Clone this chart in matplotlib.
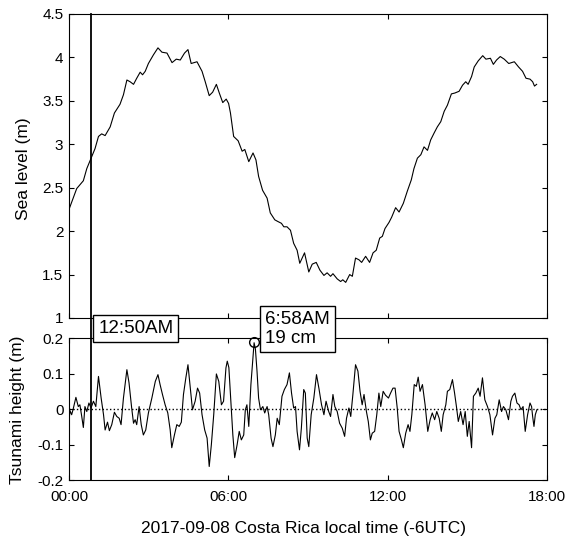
import matplotlib
matplotlib.use('Agg')
import matplotlib.pyplot as plt
import matplotlib.lines as mlines
import matplotlib.transforms as mtrans
from matplotlib.ticker import FormatStrFormatter

plt.rcParams['font.family'] = ['Liberation Sans', 'DejaVu Sans']
plt.rcParams['axes.unicode_minus'] = False

# ---- data (hours after 00:00 local time) ----
sea_time_h = [0.0, 0.29, 0.54, 0.67, 0.82, 0.98, 1.11, 1.23, 1.36, 1.55, 1.71, 1.92, 2.05, 2.18, 2.30,
              2.43, 2.55, 2.68, 2.77, 2.87, 2.99, 3.18, 3.35, 3.50, 3.69, 3.88, 4.04, 4.19, 4.35, 4.48,
              4.60, 4.82, 5.01, 5.13, 5.28, 5.41, 5.55, 5.66, 5.79, 5.92, 6.01, 6.08, 6.20, 6.37, 6.52,
              6.62, 6.77, 6.93, 7.04, 7.14, 7.29, 7.46, 7.58, 7.75, 7.87, 8.00, 8.09, 8.21, 8.34, 8.46,
              8.59, 8.69, 8.87, 9.03, 9.16, 9.31, 9.45, 9.60, 9.72, 9.85, 9.94, 10.10, 10.23, 10.31,
              10.42, 10.57, 10.67, 10.79, 10.92, 11.02, 11.17, 11.32, 11.45, 11.57, 11.70, 11.80, 11.90,
              12.05, 12.15, 12.30, 12.43, 12.59, 12.74, 12.89, 12.99, 13.12, 13.25, 13.37, 13.50, 13.62,
              13.75, 13.87, 14.00, 14.13, 14.25, 14.40, 14.53, 14.69, 14.82, 14.94, 15.03, 15.16, 15.26,
              15.41, 15.58, 15.70, 15.87, 15.98, 16.10, 16.24, 16.39, 16.56, 16.77, 16.93, 17.08, 17.21,
              17.36, 17.46, 17.53, 17.61]
sea_level_m = [2.25, 2.49, 2.58, 2.72, 2.83, 2.95, 3.09, 3.12, 3.10, 3.20, 3.36, 3.46, 3.57, 3.74, 3.72,
               3.69, 3.76, 3.83, 3.80, 3.84, 3.93, 4.03, 4.11, 4.06, 4.05, 3.94, 3.98, 3.97, 4.05, 4.09,
               3.93, 3.95, 3.84, 3.72, 3.56, 3.60, 3.69, 3.59, 3.48, 3.52, 3.47, 3.36, 3.09, 3.04, 2.92,
               2.94, 2.80, 2.90, 2.82, 2.63, 2.47, 2.38, 2.21, 2.13, 2.11, 2.09, 2.05, 2.05, 2.01, 1.86,
               1.78, 1.63, 1.75, 1.53, 1.62, 1.64, 1.55, 1.49, 1.52, 1.48, 1.51, 1.45, 1.42, 1.44,
               1.41, 1.50, 1.48, 1.69, 1.67, 1.64, 1.71, 1.64, 1.75, 1.78, 1.92, 1.94, 2.03,
               2.10, 2.16, 2.27, 2.22, 2.32, 2.46, 2.59, 2.72, 2.84, 2.88, 2.97, 2.93, 3.05,
               3.13, 3.20, 3.26, 3.38, 3.45, 3.58, 3.59, 3.61, 3.68, 3.72, 3.69, 3.78, 3.89,
               3.96, 4.02, 3.98, 3.99, 3.92, 3.97, 4.01, 3.98, 3.93, 3.95, 3.89, 3.84, 3.76,
               3.75, 3.72, 3.67, 3.69]

tsu_time_h = [0.0, 0.04, 0.10, 0.16, 0.26, 0.35, 0.41, 0.48, 0.54, 0.60, 0.67, 0.75, 0.83, 0.92, 1.01,
              1.11, 1.21, 1.30, 1.36, 1.45, 1.52, 1.61, 1.71, 1.80, 1.89, 1.96, 2.05, 2.18, 2.26, 2.36,
              2.43, 2.49, 2.55, 2.64, 2.72, 2.80, 2.89, 2.99, 3.12, 3.25, 3.35, 3.43, 3.52, 3.62, 3.72,
              3.81, 3.87, 3.97, 4.06, 4.15, 4.23, 4.31, 4.40, 4.48, 4.57, 4.65, 4.75, 4.84, 4.92, 5.01,
              5.11, 5.20, 5.28, 5.36, 5.45, 5.55, 5.64, 5.74, 5.82, 5.91, 5.96, 6.02, 6.08, 6.17, 6.24,
              6.33, 6.41, 6.49, 6.58, 6.64, 6.70, 6.77, 6.85, 6.97, 7.02, 7.08, 7.14, 7.21, 7.30, 7.37,
              7.46, 7.52, 7.61, 7.68, 7.77, 7.84, 7.92, 8.02, 8.11, 8.21, 8.30, 8.38, 8.46, 8.53, 8.59,
              8.68, 8.75, 8.84, 8.90, 8.97, 9.03, 9.12, 9.22, 9.32, 9.41, 9.51, 9.60, 9.68, 9.78, 9.85,
              9.94, 10.01, 10.10, 10.19, 10.29, 10.38, 10.45, 10.54, 10.61, 10.69, 10.79, 10.88, 10.96,
              11.04, 11.11, 11.20, 11.27, 11.35, 11.42, 11.51, 11.59, 11.67, 11.74, 11.83, 11.92, 12.03,
              12.11, 12.20, 12.28, 12.36, 12.43, 12.52, 12.59, 12.68, 12.77, 12.84, 12.91, 13.00, 13.08,
              13.15, 13.22, 13.31, 13.41, 13.51, 13.60, 13.68, 13.77, 13.85, 13.94, 14.02, 14.09, 14.19,
              14.25, 14.34, 14.44, 14.52, 14.59, 14.66, 14.75, 14.84, 14.92, 15.00, 15.07, 15.16, 15.23,
              15.32, 15.41, 15.48, 15.57, 15.66, 15.76, 15.85, 15.95, 16.04, 16.11, 16.20, 16.29, 16.36,
              16.45, 16.55, 16.64, 16.70, 16.79, 16.87, 16.95, 17.02, 17.10, 17.18, 17.27, 17.36, 17.42,
              17.46, 17.51, 17.56, 17.62]
tsu_height_m = [-0.029, -0.004, -0.015, 0.002, 0.034, 0.008, 0.013, -0.020, -0.051, 0.008, -0.006, 0.018,
                0.004, 0.023, 0.008, 0.093, 0.032, -0.015, -0.058, -0.036, -0.060, -0.043, -0.008, -0.020,
                -0.025, -0.043, 0.032, 0.112, 0.075, 0.004, -0.039, -0.029, -0.043, 0.008, -0.043, -0.072,
                -0.058, -0.010, 0.032, 0.079, 0.098, 0.070, 0.042, 0.013, -0.010, -0.058, -0.108, -0.072,
                -0.043, -0.048, -0.036, 0.042, 0.089, 0.126, 0.060, -0.001, 0.023, 0.060, 0.046, -0.015,
                -0.058, -0.081, -0.161, -0.100, -0.015, 0.100, 0.079, 0.013, 0.023, 0.117, 0.136, 0.118,
                0.042, -0.072, -0.136, -0.100, -0.062, -0.086, -0.072, -0.001, 0.013, -0.048, 0.070, 0.188,
                0.170, 0.108, 0.032, -0.001, 0.008, -0.010, 0.008, -0.015, -0.081, -0.105, -0.072, -0.025,
                -0.043, 0.037, 0.056, 0.070, 0.103, 0.046, 0.004, 0.008, -0.062, -0.114, -0.053, 0.056,
                0.046, -0.081, -0.105, -0.015, 0.032, 0.098, 0.060, 0.013, -0.015, 0.023, -0.006, -0.020,
                0.042, 0.008, -0.006, -0.039, -0.053, -0.076, -0.025, 0.004, -0.020, 0.042, 0.126, 0.108,
                0.051, 0.013, 0.042, -0.006, -0.034, -0.086, -0.067, -0.062, -0.015, 0.046, 0.008, 0.051,
                0.040, 0.032, 0.046, 0.060, 0.060, 0.004, -0.062, -0.086, -0.108, -0.067, -0.043, -0.062,
                -0.015, 0.070, 0.065, 0.091, 0.051, 0.070, 0.013, -0.062, -0.029, -0.010, -0.029, -0.006,
                -0.025, -0.062, -0.015, 0.013, 0.051, 0.056, 0.084, 0.046, 0.008, -0.034, -0.006, -0.043,
                -0.006, -0.076, -0.034, -0.108, 0.037, 0.046, 0.060, 0.037, 0.089, 0.027, 0.008, -0.015,
                -0.072, -0.025, -0.015, 0.027, -0.006, 0.008, -0.001, -0.029, 0.023, 0.037, 0.046, 0.018,
                0.013, -0.001, 0.008, -0.062, -0.015, 0.018, 0.008, -0.020, -0.048, -0.015, -0.001]

event_time_h = 50 / 60          # 12:50AM
peak_time_h = 6 + 58 / 60       # 6:58AM
peak_height_m = 0.19

x_ticks = [0, 6, 12, 18]
x_tick_labels = ['00:00', '06:00', '12:00', '18:00']
sea_ticks = [1, 1.5, 2, 2.5, 3, 3.5, 4, 4.5]
tsu_ticks = [-0.2, -0.1, 0, 0.1, 0.2]

# ---- figure ----
fig = plt.figure(figsize=(5.67, 5.42), dpi=100)
L, W = 0.1217, 0.843
ax1 = fig.add_axes([L, 0.4133, W, 0.5609])
ax2 = fig.add_axes([L, 0.1138, W, 0.2617])

ax1.plot(sea_time_h, sea_level_m, color='k', lw=0.8)
ax1.set_xlim(0, 18)
ax1.set_ylim(1, 4.5)
ax1.set_xticks(x_ticks)
ax1.set_xticklabels([])
ax1.set_yticks(sea_ticks)
ax1.yaxis.set_major_formatter(FormatStrFormatter('%g'))
ax1.set_ylabel('Sea level (m)', fontsize=12.5)
ax1.yaxis.set_label_coords(-0.080, 0.49)

ax2.axhline(0, color='k', ls=':', lw=1.0)
ax2.plot(tsu_time_h, tsu_height_m, color='k', lw=0.8)
ax2.plot([peak_time_h], [peak_height_m], 'o', mfc='none', mec='k', ms=7, mew=1.0, clip_on=False)
ax2.set_xlim(0, 18)
ax2.set_ylim(-0.2, 0.2)
ax2.set_xticks(x_ticks)
ax2.set_xticklabels(x_tick_labels)
ax2.set_yticks(tsu_ticks)
ax2.yaxis.set_major_formatter(FormatStrFormatter('%g'))
ax2.set_ylabel('Tsunami height (m)', fontsize=12.5)
ax2.yaxis.set_label_coords(-0.092, 0.5)
ax2.set_xlabel('2017-09-08 Costa Rica local time (-6UTC)', fontsize=12.5)
ax2.xaxis.set_label_coords(0.49, -0.29)

for ax in (ax1, ax2):
    ax.tick_params(direction='in', top=True, right=True, length=3.5, width=0.8, labelsize=11, pad=4)
    for s in ax.spines.values():
        s.set_linewidth(0.8)
ax2.tick_params(axis='x', pad=7)

# event line spanning both panels
tr = mtrans.blended_transform_factory(ax2.transData, fig.transFigure)
fig.add_artist(mlines.Line2D([event_time_h, event_time_h], [0.1138, 0.9742], transform=tr,
                             color='k', lw=1.3))

box = dict(boxstyle='square,pad=0.26', fc='white', ec='k', lw=1.0)
fig.text(98.3 / 567, 1 - 328.5 / 542, '12:50AM', fontsize=13.5, ha='left', va='center', bbox=box)
fig.text(265 / 567, 1 - 329.2 / 542, '6:58AM\n19 cm', fontsize=13.5, ha='left', va='center',
         multialignment='left', linespacing=1.15, bbox=box)

fig.savefig('out.png', dpi=100)
